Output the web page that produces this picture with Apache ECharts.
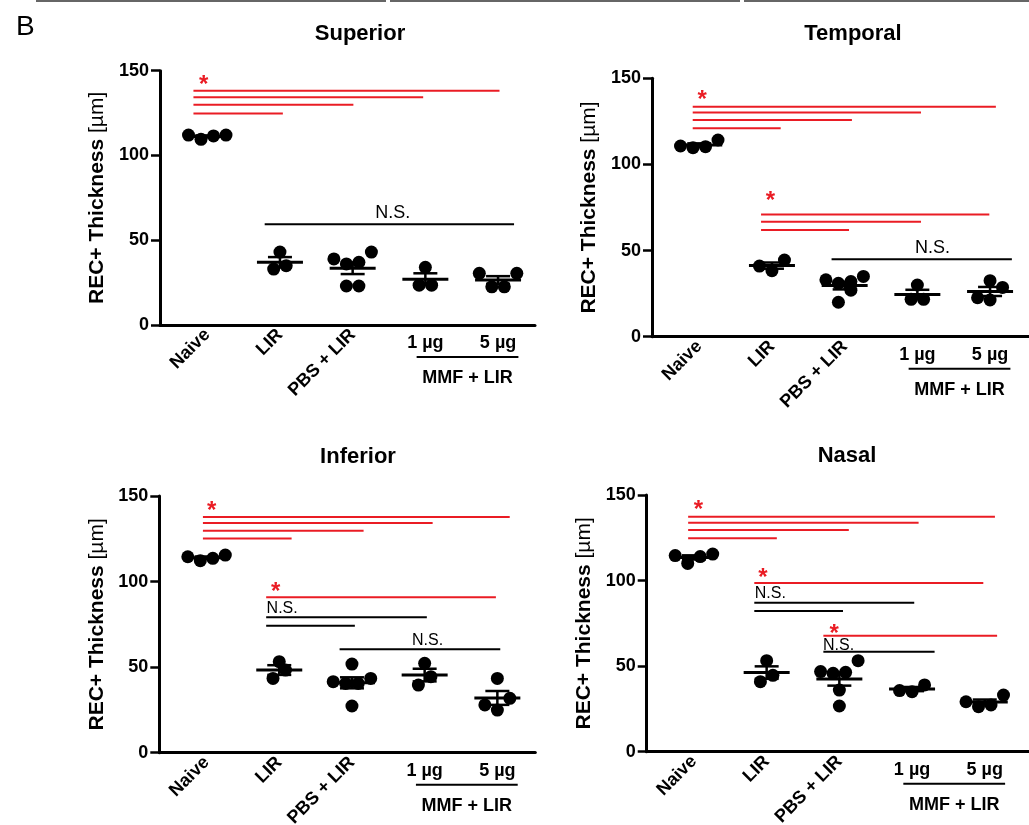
<!DOCTYPE html>
<html><head><meta charset="utf-8">
<script src="https://cdn.jsdelivr.net/npm/echarts@6/dist/echarts.min.js"></script>
<style>html,body{margin:0;padding:0;background:#fff}#c{width:1029px;height:825px}</style>
</head><body><div id="c"></div>
<script>
// ---------------- data ----------------
const categories = ['Naive', 'LIR', 'PBS + LIR', '1 µg', '5 µg'];
const panelTitles = ['Superior', 'Temporal', 'Inferior', 'Nasal'];
const figureLetter = 'B';
const yTicks = [0, 50, 100, 150];
const yAxisTitle = 'REC+ Thickness ';
const yAxisUnit = '[µm]';
const groupLabel = 'MMF + LIR';
const groupSpan = [2.88, 4.28];   // categories grouped under "MMF + LIR"

// individual measurements per group: Naive, LIR, PBS+LIR, MMF 1 µg, MMF 5 µg
const superiorValues = [
  [112, 109.5, 111.5, 112],
  [43, 33, 35],
  [43, 37, 36, 39, 23, 23],
  [34, 23.5, 23.5],
  [30.5, 22.5, 22.5, 30.5]
];
const temporalValues = [
  [110.7, 109.7, 110.3, 114.2],
  [44.5, 38.3, 41],
  [35, 20, 32, 27, 33, 31],
  [30, 21.7, 21.7],
  [28.6, 32.5, 21.3, 22.6]
];
const inferiorValues = [
  [114.5, 112.2, 113.6, 115.5],
  [53.2, 43.4, 48.3],
  [51.8, 43.4, 40.5, 40.5, 41.5, 27.3],
  [52.2, 44.4, 39.5],
  [43.4, 31.8, 27.9, 24.9]
];
const nasalValues = [
  [114.6, 110, 114, 115.5],
  [53.2, 40.9, 44.6],
  [53.2, 45.8, 46.8, 46.4, 26.7, 36],
  [39, 35.1, 35.7],
  [29.2, 26.3, 27.3, 33.1]
];

// comparison bars: [from x, to x, y value, 'sig' | 'ns']
const superiorBars = [
  [-0.19, 1.04, 124.8, 'sig'], [-0.19, 2.01, 129.9, 'sig'], [-0.19, 2.97, 134.3, 'sig'], [-0.19, 4.02, 138.2, 'sig'],
  [0.79, 4.22, 59.4, 'ns']
];
const temporalBars = [
  [-0.09, 1.12, 121.0, 'sig'], [-0.09, 2.10, 125.8, 'sig'], [-0.09, 3.05, 130.1, 'sig'], [-0.09, 4.08, 133.5, 'sig'],
  [0.85, 2.06, 61.9, 'sig'], [0.85, 3.05, 66.8, 'sig'], [0.85, 3.99, 71.0, 'sig'],
  [1.82, 4.30, 44.9, 'ns']
];
const inferiorBars = [
  [-0.05, 1.17, 125.1, 'sig'], [-0.05, 2.16, 129.7, 'sig'], [-0.05, 3.11, 134.2, 'sig'], [-0.05, 4.17, 137.7, 'sig'],
  [0.82, 3.98, 90.8, 'sig'],
  [0.82, 3.03, 79.1, 'ns'], [0.82, 2.04, 74.2, 'ns'],
  [1.83, 4.04, 60.4, 'ns']
];
const nasalBars = [
  [-0.08, 1.14, 124.7, 'sig'], [-0.08, 2.13, 129.6, 'sig'], [-0.08, 3.09, 133.8, 'sig'], [-0.08, 4.14, 137.3, 'sig'],
  [0.83, 3.98, 98.6, 'sig'],
  [0.83, 3.03, 87.1, 'ns'], [0.83, 2.05, 82.2, 'ns'],
  [1.78, 4.17, 67.8, 'sig'],
  [1.78, 3.31, 58.4, 'ns']
];

// annotation texts: [text, x, y value]
const superiorNotes = [['*', -0.05, 144.5], ['N.S.', 2.55, 66]];
const temporalNotes = [['*', 0.04, 140.3], ['*', 0.98, 81.3], ['N.S.', 3.21, 51.3]];
const inferiorNotes = [['*', 0.07, 144.2], ['*', 0.95, 96.4], ['N.S.', 1.04, 84], ['N.S.', 3.04, 65.5]];
const nasalNotes = [['*', 0.06, 144.2], ['*', 0.95, 104.2], ['N.S.', 1.05, 92.1], ['*', 1.93, 71.7], ['N.S.', 1.99, 62]];

// ---------------- layout / style ----------------
const FONT = '"Liberation Sans", Arial, Helvetica, sans-serif';
const RED = '#ea1c24';
const PX_PER_X = 72.7;
const XMIN = -0.65;
const panels = [
  { values: superiorValues, bars: superiorBars, notes: superiorNotes, grid: { left: 160, top: 70.7, width: 375, height: 254.3 }, title: [355, 18], nsSize: 18 },
  { values: temporalValues, bars: temporalBars, notes: temporalNotes, grid: { left: 652, top: 78.3, width: 377, height: 258.4 }, title: [848, 18], nsSize: 18 },
  { values: inferiorValues, bars: inferiorBars, notes: inferiorNotes, grid: { left: 159.3, top: 496, width: 376, height: 256.7 }, title: [353, 441], nsSize: 16 },
  { values: nasalValues, bars: nasalBars, notes: nasalNotes, grid: { left: 646.7, top: 495, width: 382.3, height: 256.7 }, title: [842, 440], nsSize: 16 }
];

function meanSem(arr) {
  const n = arr.length;
  const m = arr.reduce((a, b) => a + b, 0) / n;
  const sd = Math.sqrt(arr.reduce((a, v) => a + (v - m) * (v - m), 0) / (n - 1));
  return [m, sd / Math.sqrt(n)];
}

// GraphPad-like scatter layout: close values share a row and spread sideways
function swarm(vals, idx, pxPerY) {
  const d = 12.5, thr = 14;
  const sorted = vals.slice().sort((a, b) => a - b);
  const rows = [];
  let cur = null;
  sorted.forEach(v => {
    if (!cur || (v - cur.start) * pxPerY > thr) { cur = { start: v, items: [] }; rows.push(cur); }
    cur.items.push(v);
  });
  const pts = [];
  rows.forEach(r => {
    const n = r.items.length;
    const slots = [];
    for (let i = 0; i < n; i++) slots.push((i - (n - 1) / 2) * d);
    slots.sort((a, b) => Math.abs(a) - Math.abs(b) || a - b);
    r.items.forEach((v, k) => pts.push([idx + slots[k] / PX_PER_X, v]));
  });
  return pts;
}

const option = {
  animation: false,
  backgroundColor: '#fff',
  title: [{ text: figureLetter, left: 11, top: 8, textStyle: { fontFamily: FONT, fontSize: 28, fontWeight: 'normal', color: '#000' } }]
    .concat(panels.map((p, i) => ({
      text: panelTitles[i], left: p.title[0], top: p.title[1], textAlign: 'center',
      textStyle: { fontFamily: FONT, fontSize: 22, fontWeight: 'bold', color: '#000' }
    }))),
  graphic: [
    { type: 'line', shape: { x1: 36, y1: 1, x2: 386, y2: 1 }, style: { stroke: '#666', lineWidth: 2 } },
    { type: 'line', shape: { x1: 390, y1: 1, x2: 740, y2: 1 }, style: { stroke: '#666', lineWidth: 2 } },
    { type: 'line', shape: { x1: 744, y1: 1, x2: 1029, y2: 1 }, style: { stroke: '#666', lineWidth: 2 } }
  ],
  grid: [], xAxis: [], yAxis: [], series: []
};

panels.forEach((p, i) => {
  const g = p.grid;
  option.grid.push(Object.assign({ containLabel: false, outerBoundsMode: 'none' }, g));
  const xMax = XMIN + g.width / PX_PER_X;
  const pxPerY = g.height / 150;
  const baseX = {
    type: 'value', gridIndex: i, min: XMIN, max: xMax, position: 'bottom',
    splitLine: { show: false }, axisTick: { show: false },
  };
  option.xAxis.push(Object.assign({}, baseX, {
    axisLine: { show: true, onZero: false, lineStyle: { color: '#000', width: 3 } },
    axisLabel: {
      customValues: [0, 1, 2], rotate: 45, margin: 7,
      formatter: v => categories[Math.round(v)],
      fontFamily: FONT, fontSize: 18, fontWeight: 'bold', color: '#000'
    }
  }));
  option.xAxis.push(Object.assign({}, baseX, {
    axisLine: { show: false, onZero: false },
    axisLabel: {
      customValues: [3, 4], rotate: 0, margin: 9,
      formatter: v => categories[Math.round(v)],
      fontFamily: FONT, fontSize: 18, fontWeight: 'bold', color: '#000'
    }
  }));
  option.yAxis.push({
    type: 'value', gridIndex: i, min: yTicks[0], max: yTicks[yTicks.length - 1], interval: yTicks[1] - yTicks[0],
    splitLine: { show: false },
    axisLine: { show: true, onZero: false, lineStyle: { color: '#000', width: 3 } },
    axisTick: { show: true, length: 9, lineStyle: { color: '#000', width: 2.5 } },
    axisLabel: { margin: 11, fontFamily: FONT, fontSize: 18, fontWeight: 'bold', color: '#000' },
    name: '{b|' + yAxisTitle + '}{n|' + yAxisUnit + '}',
    nameLocation: 'middle', nameGap: 52, nameRotate: 90,
    nameTextStyle: {
      color: '#000',
      rich: {
        b: { fontFamily: FONT, fontSize: 21, fontWeight: 'bold', color: '#000' },
        n: { fontFamily: FONT, fontSize: 21, fontWeight: 'normal', color: '#000' }
      }
    }
  });
  const xi = 2 * i;

  // individual points
  const pts = [];
  p.values.forEach((vals, k) => swarm(vals, k, pxPerY).forEach(pt => pts.push(pt)));
  option.series.push({
    type: 'scatter', xAxisIndex: xi, yAxisIndex: i, data: pts,
    symbol: 'circle', symbolSize: 13, itemStyle: { color: '#000', opacity: 1, borderWidth: 0 }, z: 3, silent: true
  });

  // mean ± SEM
  const ms = p.values.map((vals, k) => { const r = meanSem(vals); return [k, r[0], r[1]]; });
  option.series.push({
    type: 'custom', xAxisIndex: xi, yAxisIndex: i, data: ms, z: 4, silent: true,
    encode: { x: 0, y: 1 },
    renderItem: (params, api) => {
      const x = api.value(0), m = api.value(1), s = api.value(2);
      const c = api.coord([x, m]), t = api.coord([x, m + s]), b = api.coord([x, m - s]);
      const st = { stroke: '#000', lineWidth: 2.5 };
      return {
        type: 'group', children: [
          { type: 'line', shape: { x1: c[0] - 23, y1: c[1], x2: c[0] + 23, y2: c[1] }, style: { stroke: '#000', lineWidth: 3 } },
          { type: 'line', shape: { x1: t[0], y1: t[1], x2: b[0], y2: b[1] }, style: st },
          { type: 'line', shape: { x1: t[0] - 12, y1: t[1], x2: t[0] + 12, y2: t[1] }, style: st },
          { type: 'line', shape: { x1: b[0] - 12, y1: b[1], x2: b[0] + 12, y2: b[1] }, style: st }
        ]
      };
    }
  });

  // comparison bars
  option.series.push({
    type: 'custom', xAxisIndex: xi, yAxisIndex: i, z: 5, silent: true,
    data: p.bars.map(b => ({ value: [b[0], b[1], b[2]], itemStyle: { color: b[3] === 'sig' ? RED : '#000' } })),
    encode: { x: [0, 1], y: 2 },
    renderItem: (params, api) => {
      const a = api.coord([api.value(0), api.value(2)]);
      const b = api.coord([api.value(1), api.value(2)]);
      return { type: 'line', shape: { x1: a[0], y1: a[1], x2: b[0], y2: b[1] }, style: { stroke: api.visual('color'), lineWidth: 2 } };
    }
  });

  // annotation texts
  option.series.push({
    type: 'custom', xAxisIndex: xi, yAxisIndex: i, z: 6, silent: true,
    data: p.notes.map(n => [n[1], n[2]]),
    encode: { x: 0, y: 1 },
    renderItem: (params, api) => {
      const n = p.notes[params.dataIndex];
      const c = api.coord([api.value(0), api.value(1)]);
      const star = n[0] === '*';
      return {
        type: 'text', x: c[0], y: c[1] + (star ? 5 : 0),
        style: {
          text: n[0], fill: star ? RED : '#000',
          font: (star ? 'bold 24px ' : 'normal ' + p.nsSize + 'px ') + FONT,
          align: 'center', verticalAlign: 'middle', textAlign: 'center', textVerticalAlign: 'middle'
        }
      };
    }
  });

  // group bracket under MMF doses
  option.series.push({
    type: 'custom', xAxisIndex: xi, yAxisIndex: i, z: 6, silent: true, clip: false,
    data: [[groupSpan[0], groupSpan[1], 0]],
    encode: { x: [0, 1], y: 2 },
    renderItem: (params, api) => {
      const a = api.coord([api.value(0), api.value(2)]);
      const b = api.coord([api.value(1), api.value(2)]);
      return {
        type: 'group', children: [
          { type: 'line', shape: { x1: a[0], y1: a[1] + 32, x2: b[0], y2: b[1] + 32 }, style: { stroke: '#000', lineWidth: 2 } },
          {
            type: 'text', x: (a[0] + b[0]) / 2, y: a[1] + 53,
            style: {
              text: groupLabel, fill: '#000', font: 'bold 18px ' + FONT,
              align: 'center', verticalAlign: 'middle', textAlign: 'center', textVerticalAlign: 'middle'
            }
          }
        ]
      };
    }
  });
});

const chart = echarts.init(document.getElementById('c'), null, { renderer: 'canvas' });
chart.setOption(option);
</script>
</body></html>
